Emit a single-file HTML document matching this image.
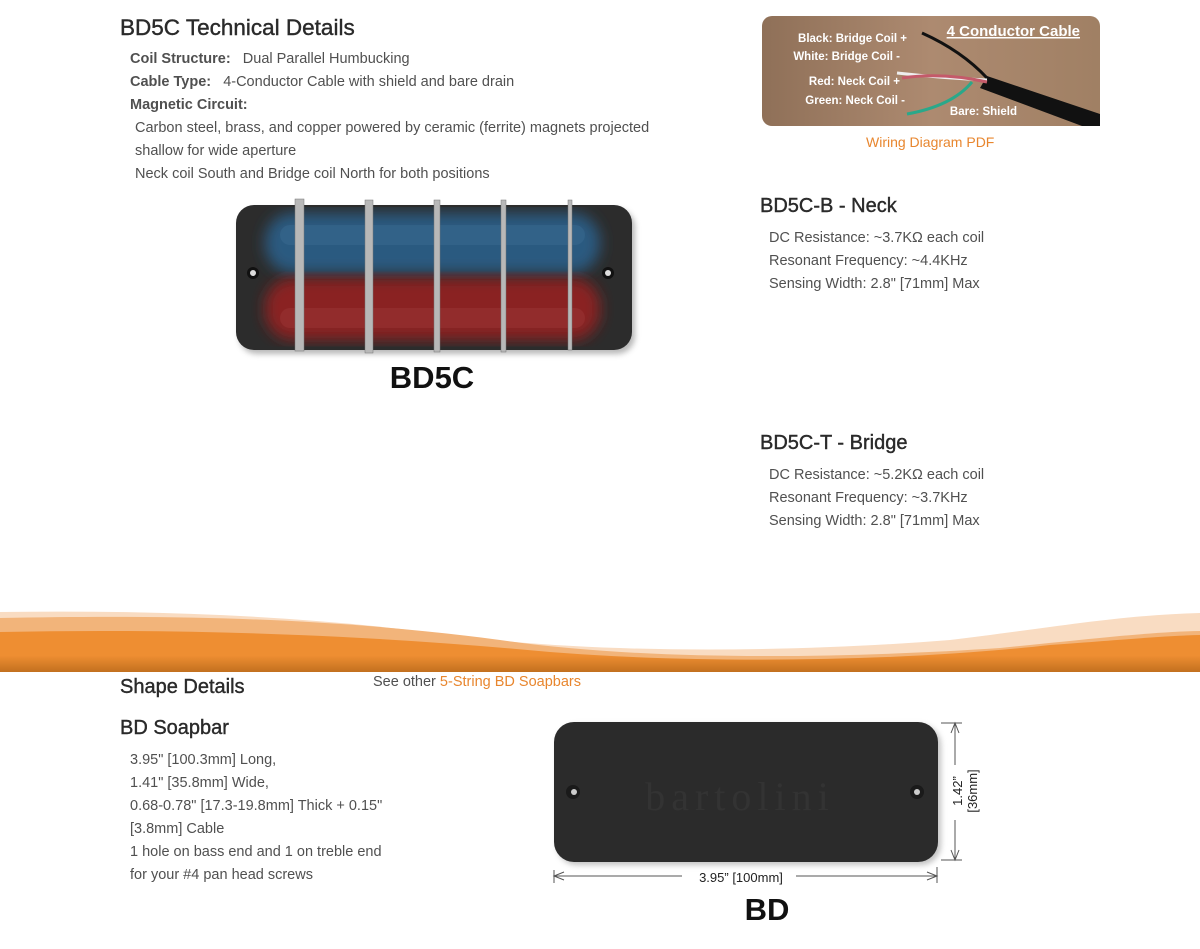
<!DOCTYPE html>
<html><head><meta charset="utf-8"><style>
body{margin:0;width:1200px;height:949px;background:#fff;position:relative;overflow:hidden;font-family:"Liberation Sans",sans-serif;color:#505050}
.a{position:absolute;white-space:nowrap}
h2{position:absolute;margin:0;font-weight:normal;color:#2a2a2a;font-size:21px;white-space:nowrap;-webkit-text-stroke:0.4px #2a2a2a}
.t{font-size:14.5px;line-height:23px}
b{color:#505050}
.or{color:#e8862e}
</style></head><body>
<h2 style="left:120px;top:15px;font-size:22.5px">BD5C Technical Details</h2>
<div class="a t" style="left:130px;top:48px"><b>Coil Structure:</b>&nbsp;&nbsp;&nbsp;Dual Parallel Humbucking<br><b>Cable Type:</b>&nbsp;&nbsp;&nbsp;4-Conductor Cable with shield and bare drain<br><b>Magnetic Circuit:</b></div>
<div class="a t" style="left:135px;top:117px">Carbon steel, brass, and copper powered by ceramic (ferrite) magnets projected<br>shallow for wide aperture<br>Neck coil South and Bridge coil North for both positions</div>

<svg class="a" style="left:225px;top:195px" width="420" height="200">
<defs><filter id="bl"><feGaussianBlur stdDeviation="7"/></filter><filter id="sh"><feGaussianBlur stdDeviation="3"/></filter></defs>
<rect x="14" y="14" width="396" height="145" rx="18" fill="#888" filter="url(#sh)" opacity=".6"/>
<rect x="11" y="10" width="396" height="145" rx="18" fill="#2c2c2c"/>
<rect x="40" y="18" width="335" height="60" rx="28" fill="#2a5a80" filter="url(#bl)"/>
<rect x="40" y="83" width="335" height="62" rx="28" fill="#8a2222" filter="url(#bl)"/>
<rect x="55" y="30" width="305" height="20" rx="10" fill="#3a6a90" opacity=".5"/>
<rect x="55" y="113" width="305" height="20" rx="10" fill="#9a3535" opacity=".5"/>
<circle cx="28" cy="78" r="6" fill="#111"/><circle cx="28" cy="78" r="3" fill="#ddd"/>
<circle cx="383" cy="78" r="6" fill="#111"/><circle cx="383" cy="78" r="3" fill="#ddd"/>
<g fill="#b8b8b8" stroke="#777" stroke-width=".5">
<rect x="70" y="4" width="9" height="152"/><rect x="140" y="5" width="8" height="153"/><rect x="209" y="5" width="6" height="152"/><rect x="276" y="5" width="5" height="152"/><rect x="343" y="5" width="4" height="150"/></g>
<text x="207" y="193" text-anchor="middle" font-family="Liberation Sans" font-weight="bold" font-size="31" fill="#111">BD5C</text>
</svg>

<svg class="a" style="left:762px;top:16px" width="338" height="110">
<defs><linearGradient id="w" x1="0" x2="1"><stop offset="0" stop-color="#8f7058"/><stop offset=".5" stop-color="#ad8a70"/><stop offset="1" stop-color="#a08064"/></linearGradient></defs>
<rect width="338" height="110" rx="10" fill="url(#w)"/>
<path d="M225 60 L338 98 L338 110 L320 110 L218 72Z" fill="#111"/>
<path d="M160 17 Q200 35 225 62" stroke="#111" stroke-width="3" fill="none"/>
<path d="M135 57 Q180 62 225 64" stroke="#eee" stroke-width="3" fill="none"/>
<path d="M140 62 Q180 56 225 66" stroke="#c45a6a" stroke-width="3" fill="none"/>
<path d="M145 98 Q190 90 210 66" stroke="#2aa88a" stroke-width="3" fill="none"/>
<g font-family="Liberation Sans" font-weight="bold" font-size="11.5" fill="#fff" text-anchor="end">
<text x="145" y="26">Black: Bridge Coil +</text><text x="138" y="44">White: Bridge Coil -</text>
<text x="138" y="69">Red: Neck Coil +</text><text x="143" y="88">Green: Neck Coil -</text>
<text x="255" y="99" text-anchor="end">Bare: Shield</text>
<text x="318" y="20" font-size="15" text-decoration="underline">4 Conductor Cable</text></g>
</svg>
<div class="a or" style="left:866px;top:134px;font-size:14px">Wiring Diagram PDF</div>

<h2 style="left:760px;top:195px;font-size:20px">BD5C-B - Neck</h2>
<div class="a t" style="left:769px;top:227px">DC Resistance: ~3.7KΩ each coil<br>Resonant Frequency: ~4.4KHz<br>Sensing Width: 2.8" [71mm] Max</div>
<h2 style="left:760px;top:432px;font-size:20px">BD5C-T - Bridge</h2>
<div class="a t" style="left:769px;top:464px">DC Resistance: ~5.2KΩ each coil<br>Resonant Frequency: ~3.7KHz<br>Sensing Width: 2.8" [71mm] Max</div>

<svg class="a" style="left:0;top:600px" width="1200" height="72">
<defs><linearGradient id="o" x1="0" y1="0" x2="0" y2="1"><stop offset=".6" stop-color="#ee8e32"/><stop offset="1" stop-color="#c2701f"/></linearGradient></defs>
<path d="M0 12 C150 10 300 15 450 35 C600 55 800 52 950 40 C1050 28 1120 15 1200 13 V72 H0Z" fill="#f9dcc2"/>
<path d="M0 18 C200 14 350 20 500 40 C650 62 850 58 1000 48 C1100 38 1150 32 1200 31 V72 H0Z" fill="#f2b47a"/>
<path d="M0 32 C200 28 380 36 550 52 C700 64 900 62 1050 45 C1120 40 1160 36 1200 35 V72 H0Z" fill="url(#o)"/>
</svg>

<h2 style="left:120px;top:676px;font-size:20px">Shape Details</h2>
<div class="a" style="left:373px;top:674px;font-size:14.5px">See other <span class="or">5-String BD Soapbars</span></div>
<h2 style="left:120px;top:717px;font-size:20px">BD Soapbar</h2>
<div class="a t" style="left:130px;top:749px">3.95" [100.3mm] Long,<br>1.41" [35.8mm] Wide,<br>0.68-0.78" [17.3-19.8mm] Thick + 0.15"<br>[3.8mm] Cable<br>1 hole on bass end and 1 on treble end<br>for your #4 pan head screws</div>

<svg class="a" style="left:540px;top:715px" width="460" height="215">
<rect x="17" y="10" width="384" height="140" rx="20" fill="#999" filter="url(#sh)" opacity=".6"/>
<rect x="14" y="7" width="384" height="140" rx="20" fill="#2b2b2b"/>
<text x="200" y="95" text-anchor="middle" font-family="Liberation Serif" font-size="40" fill="#333" letter-spacing="6">bartolini</text>
<circle cx="33" cy="77" r="7" fill="#1a1a1a"/><circle cx="34" cy="77" r="3" fill="#ccc"/>
<circle cx="377" cy="77" r="7" fill="#1a1a1a"/><circle cx="377" cy="77" r="3" fill="#ccc"/>
<g stroke="#555" stroke-width="1" fill="none">
<line x1="14" y1="155" x2="14" y2="168"/><line x1="397" y1="152" x2="397" y2="168"/>
<line x1="14" y1="161" x2="142" y2="161"/><line x1="256" y1="161" x2="397" y2="161"/>
<path d="M24 157 L14 161 L24 165 M387 157 L397 161 L387 165"/>
<line x1="401" y1="8" x2="422" y2="8"/><line x1="401" y1="145" x2="422" y2="145"/>
<line x1="415" y1="8" x2="415" y2="50"/><line x1="415" y1="105" x2="415" y2="145"/>
<path d="M411 18 L415 8 L419 18 M411 135 L415 145 L419 135"/></g>
<text x="201" y="167" text-anchor="middle" font-family="Liberation Sans" font-size="13" fill="#222">3.95” [100mm]</text>
<text transform="translate(422 76) rotate(-90)" text-anchor="middle" font-family="Liberation Sans" font-size="13" fill="#222">1.42”</text>
<text transform="translate(437 76) rotate(-90)" text-anchor="middle" font-family="Liberation Sans" font-size="13" fill="#222">[36mm]</text>
<text x="227" y="205" text-anchor="middle" font-family="Liberation Sans" font-weight="bold" font-size="31" fill="#111">BD</text>
</svg>
</body></html>
